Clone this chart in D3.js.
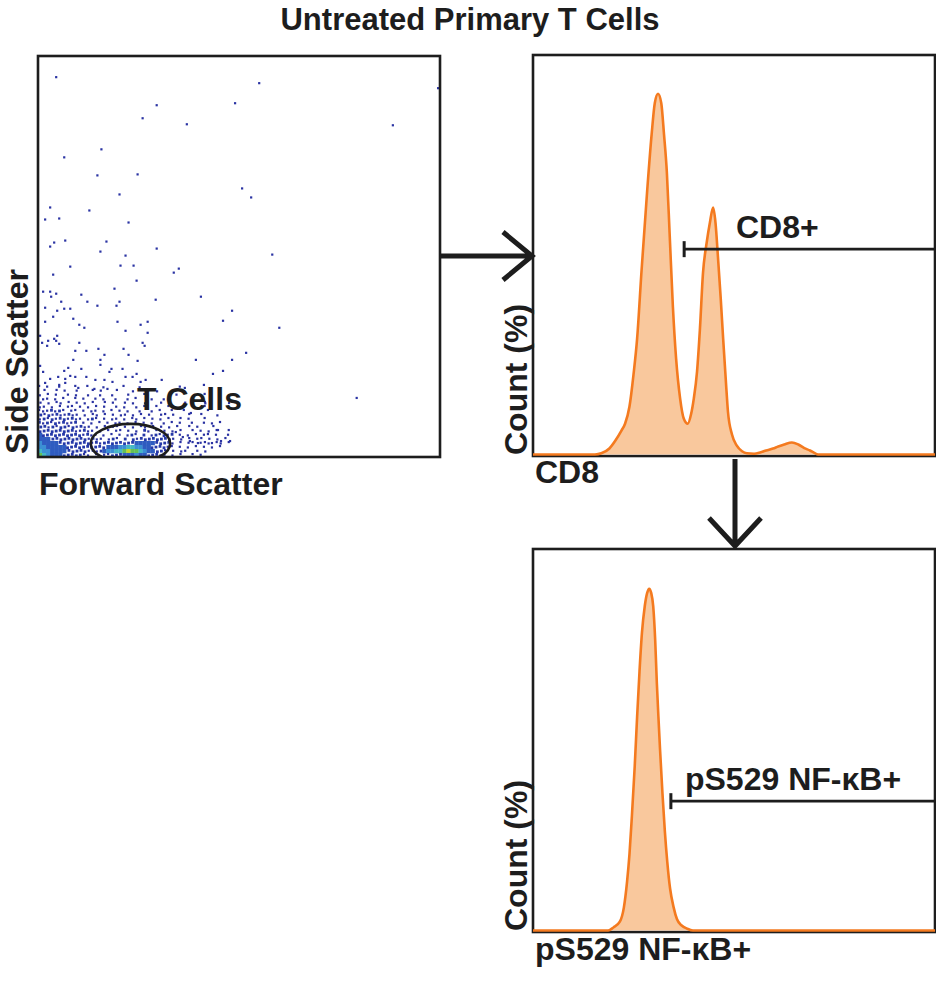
<!DOCTYPE html>
<html>
<head>
<meta charset="utf-8">
<script src="https://cdn.jsdelivr.net/npm/d3@7"></script>
<style>
  body { margin: 0; background: #fff; }
  text { font-family: "Liberation Sans", Arial, Helvetica, sans-serif; font-weight: bold; fill: #1d1d1d; }
</style>
</head>
<body>
<svg id="chart" width="936" height="996"></svg>
<script>
// ---- data -------------------------------------------------------------

// scatter: FSC / SSC in arbitrary units (0-200), sparse events
var sparseEvents = [
  [9, 189.5], [110, 186.5], [59, 175.5], [98, 176.5], [52, 169], [74, 166], [176.5, 165.5], [199, 184],
  [31.5, 153.5], [13, 149.5], [29.5, 140.5], [49.5, 141], [101.5, 134], [106, 129.5], [40.5, 131],
  [6, 124.5], [25.5, 123], [3.5, 118.5], [10.5, 119], [45, 117], [13.5, 108], [8, 107], [6, 105],
  [34, 107.5], [31, 102.5], [59, 104], [43.5, 100.5], [116.5, 101], [16, 95], [41, 95.5], [47.5, 95.5],
  [70, 94], [67.5, 92], [7.5, 91], [49, 88], [38, 84], [2.5, 82.5], [6, 82.5], [9, 81.5], [6.5, 80],
  [21.5, 81], [81, 80], [11.5, 77.5], [24.5, 77.5], [40.5, 77.5], [58.5, 78.5], [29.5, 75.5], [39, 75.5],
  [3.5, 74.5], [13, 74], [16, 74], [9.5, 73], [96.5, 73], [7.5, 70], [17.5, 69], [3.5, 67.5], [20.5, 66],
  [23, 64.5], [39.5, 67.5], [51, 66], [54.5, 67.5], [92, 68], [43.5, 63], [54.5, 62], [120, 64.5],
  [1, 60.5], [9.5, 60.5], [8, 59], [2, 57], [5, 58], [9, 58], [10.5, 56.5], [4.5, 55.5], [20.5, 57],
  [52, 57], [53, 55.5], [18.5, 53], [24, 53], [30, 54], [42.5, 54], [103.5, 52], [33, 51], [45, 51],
  [17.5, 48.5], [31, 48.5], [49.5, 48], [78.5, 48.5], [96.5, 48.5], [1, 45.5], [15, 44.5], [31, 46],
  [21.5, 44], [36.5, 44], [42, 44], [2.5, 42.5], [13, 43], [35.5, 42.5], [49, 41.5], [87, 41.5], [92, 43],
  [6, 39], [10, 40], [13.5, 39], [16, 40.5], [18.5, 40], [24, 40], [28.5, 38.5], [33, 38.5], [37, 37.5],
  [43.5, 40], [47, 40], [51, 37.5], [61.5, 38.5], [53.5, 38.5], [3.5, 37], [10.5, 36], [13.5, 37],
  [20, 34.5], [28, 34], [34.5, 34], [82.5, 36], [73, 34.5], [158.5, 29.5], [83, 27.5], [95, 27],
  [76, 22], [89.5, 13.5], [95.5, 8], [91, 8], [86.5, 7], [83, 7.5], [79.5, 7], [75.5, 8], [72, 10], [68.5, 12.5]
]

// scatter: dense core as event-density cells (2 x 2 units), top row first, '.' = empty
var densityCellSize = 2
var densityRows = [
  "1.1..1...1..1...1....1...1.........1..............",
  ".1..1.1..1...1.1...1...1.....1....................",
  "1.1.1..1.1..1..1..1...1...1.......1......1........",
  ".11.1.1..1.1..1.1..1..1.1...1..1..................",
  "1.1.11.1.1.1.1..1.1..1.1..1...1.....1....1........",
  "11.1.1.11.1.1.1.1..1.1..1.1..1..1........1........",
  "1112121.11.1.11.1.1.1.1..1..1.1..1..1.....1.......",
  "2121211211.1.11.1.1.11.1.1.1..11.1...1..1...1.....",
  "12121221211.121.1.11.1.11.1.1.1.1..1.1...1........",
  "2121212112.1.1.1.1.11.1.1.1.1..1.1.1..1..1.1.1....",
  "2212122121211.1.1.11.1.1.11.1.1.1.1..1.1...1......",
  "22222222211211.1.1.11.1.1.21.1.1.1.1..1.1.1.1..1..",
  "322222222221211.1.1.1.121.2.121212.1.1.1.11.1..1..",
  "3332222222221211.121.2.21222222221.1.1.11.1.1.1...",
  "4333322222222121222222223333322221.1.11.1.1.11.1.",
  "4433333222222222233344554433222211.1.1.1.1.1.1....",
  "54433332222212123445567665433221.1.11..1.1.......",
  "6543332222211.1.1122233343322211.1.1..1.1........"
]

// T cell gate (ellipse) in scatter units
var tCellGate = {fsc: 46, ssc: 6.75, rFsc: 19.75, rSsc: 9.75}

// histograms: [intensity 0-100, count %]
var cd8Hist = [
  [0, 0], [15.4, 0], [17, 0.3], [19, 1.5], [20.5, 3.5], [22, 6], [22.9, 7.7], [24, 12], [25, 20],
  [25.9, 29], [27, 46], [28.4, 66], [29.5, 80], [30.3, 88], [31.1, 90.3], [31.9, 88], [32.6, 80],
  [33.3, 70.6], [34, 55], [34.8, 37], [35.6, 24], [36.6, 14], [37.5, 9], [38.5, 7.7], [39.3, 10],
  [40, 14], [40.8, 20.7], [41.5, 31], [42.3, 45.6], [43.2, 53], [44, 58], [44.8, 61.8], [45.4, 58],
  [46, 49.6], [46.7, 39], [47.3, 29], [48, 18], [48.5, 10.7], [49.5, 5], [50.7, 2.2], [52, 0.8],
  [53.2, 0.3], [55, 0.2], [56.5, 0.5], [58, 1], [59.7, 1.5], [61, 2], [62.5, 2.5], [64.4, 3],
  [66, 2.5], [67.5, 1.6], [68.9, 1], [70, 0.4], [70.9, 0], [100, 0]
]
var nfkbHist = [
  [0, 0], [18.7, 0], [20, 0.8], [21.6, 2.3], [22.6, 6], [23.4, 12.8], [24, 20], [24.6, 30], [25.3, 43],
  [25.9, 56], [26.5, 68], [27.1, 78], [27.8, 85], [28.4, 88.5], [28.9, 89.6], [29.4, 88.5], [29.9, 85],
  [30.4, 76], [30.8, 65], [31.2, 56], [31.6, 47.5], [32.2, 36], [32.8, 26], [33.4, 18], [34.1, 11],
  [35, 6], [35.8, 3], [37, 1.3], [38.3, 0.5], [39.8, 0], [100, 0]
]

// gates: start intensity, drawn at count %
var cd8Gate = {start: 37.6, level: 51.4, label: "CD8+"}
var nfkbGate = {start: 34.3, level: 33.9, label: "pS529 NF-\u03BAB+"}

// ---- drawing ----------------------------------------------------------

var svg = d3.select('#chart')
var ink = '#1d1d1d'
var densityColors = ['', '#2a32a2', '#2538a8', '#2f5cc0', '#3b8fd4', '#44b8c4', '#63c057', '#c2d72f']

svg.append('text').text('Untreated Primary T Cells')
  .attr('x', 470).attr('y', 30)
  .attr('text-anchor', 'middle')
  .style('font-size', '31px')

// scatter panel
var sc = {left: 38, top: 56, right: 440, bottom: 457}
var xS = d3.scaleLinear().domain([0, 200]).range([sc.left, sc.right])
var yS = d3.scaleLinear().domain([0, 200]).range([sc.bottom, sc.top])

svg.append('clipPath').attr('id', 'scClip')
  .append('rect')
  .attr('x', sc.left).attr('y', sc.top)
  .attr('width', sc.right - sc.left).attr('height', sc.bottom - sc.top)

var scG = svg.append('g').attr('clip-path', 'url(#scClip)')

var cells = []
densityRows.forEach(function(row, r) {
  row.split('').forEach(function(ch, c) {
    if (ch == '.') return
    cells.push({u: c*densityCellSize, v: (densityRows.length - 1 - r)*densityCellSize, level: +ch, r: r, c: c})
  })
})

// small dots for the thin levels, whole cells for the dense ones
var cellPx = xS(densityCellSize) - xS(0)
function dotSize(d) { return d.level == 1 ? 2.2 : d.level == 2 ? 2.8 : cellPx + 0.3 }
function nudge(d) { return d.level > 2 ? 0 : (d.c*3 + d.r*2) % 3 * 0.7 }

scG.selectAll('rect.cell').data(cells).enter().append('rect')
  .attr('class', 'cell')
  .attr('x', function(d) { return xS(d.u) + nudge(d) })
  .attr('y', function(d) { return yS(d.v + densityCellSize) + (d.level > 2 ? 0 : (d.r + d.c*2) % 3 * 0.7) })
  .attr('width', dotSize)
  .attr('height', dotSize)
  .attr('fill', function(d) { return densityColors[d.level] })

scG.selectAll('rect.evt').data(sparseEvents).enter().append('rect')
  .attr('class', 'evt')
  .attr('x', function(d) { return xS(d[0]) - 1 })
  .attr('y', function(d) { return yS(d[1]) - 1 })
  .attr('width', 2.2).attr('height', 2.2)
  .attr('fill', '#2a33a3')

scG.append('ellipse')
  .attr('cx', xS(tCellGate.fsc))
  .attr('cy', yS(tCellGate.ssc))
  .attr('rx', xS(tCellGate.fsc + tCellGate.rFsc) - xS(tCellGate.fsc))
  .attr('ry', yS(tCellGate.ssc) - yS(tCellGate.ssc + tCellGate.rSsc))
  .attr('fill', 'none').attr('stroke', ink).attr('stroke-width', 2.6)

svg.append('rect')
  .attr('x', sc.left).attr('y', sc.top)
  .attr('width', sc.right - sc.left).attr('height', sc.bottom - sc.top)
  .attr('fill', 'none').attr('stroke', ink).attr('stroke-width', 2.6)

svg.append('text').text('T Cells').attr('x', 137).attr('y', 410).style('font-size', '32px')
svg.append('text').text('Forward Scatter').attr('x', 39).attr('y', 495).style('font-size', '32px')
svg.append('text').text('Side Scatter')
  .attr('transform', 'translate(28,454) rotate(-90)')
  .style('font-size', '32px')

// histogram panels
function histPanel(top, bottom, data, gate, gateLabelX, xLabel, xLabelY) {
  var p = {left: 533, right: 935, top: top, bottom: bottom}
  var x = d3.scaleLinear().domain([0, 100]).range([p.left, p.right])
  var y = d3.scaleLinear().domain([0, 100]).range([p.bottom - 1.5, p.top])
  var g = svg.append('g')

  g.append('rect')
    .attr('x', p.left).attr('y', p.top)
    .attr('width', p.right - p.left).attr('height', p.bottom - p.top)
    .attr('fill', 'none').attr('stroke', ink).attr('stroke-width', 2.6)

  var area = d3.area()
    .x(function(d) { return x(d[0]) })
    .y0(y(0))
    .y1(function(d) { return y(d[1]) })
    .curve(d3.curveMonotoneX)
  var line = d3.line()
    .x(function(d) { return x(d[0]) })
    .y(function(d) { return y(d[1]) })
    .curve(d3.curveMonotoneX)

  g.append('path').datum(data).attr('d', area).attr('fill', '#f9c89d')
  g.append('path').datum(data).attr('d', line)
    .attr('fill', 'none').attr('stroke', '#f47a1f').attr('stroke-width', 2.6)
    .attr('stroke-linejoin', 'round')

  var gy = y(gate.level)
  g.append('path')
    .attr('d', 'M' + x(gate.start) + ',' + gy + 'H' + x(100))
    .attr('stroke', ink).attr('stroke-width', 2.6)
  g.append('path')
    .attr('d', 'M' + x(gate.start) + ',' + (gy - 8) + 'V' + (gy + 8))
    .attr('stroke', ink).attr('stroke-width', 3)
  g.append('text').text(gate.label)
    .attr('x', x(gateLabelX)).attr('y', gy - 11)
    .style('font-size', '32px')

  g.append('text').text('Count (%)')
    .attr('transform', 'translate(527,' + (p.bottom - 1) + ') rotate(-90)')
    .style('font-size', '32px')
  g.append('text').text(xLabel)
    .attr('x', 535).attr('y', xLabelY)
    .style('font-size', '32px')
}

histPanel(55, 456, cd8Hist, cd8Gate, 50.5, 'CD8', 483)
histPanel(549, 932, nfkbHist, nfkbGate, 37.8, 'pS529 NF-\u03BAB+', 960)

// arrows between panels
var arrowStroke = 5
svg.append('path')
  .attr('d', 'M440,256H531 M503,232L532,256L503,280')
  .attr('fill', 'none').attr('stroke', ink).attr('stroke-width', arrowStroke)
svg.append('path')
  .attr('d', 'M735,459V545 M709,518L735,546L761,518')
  .attr('fill', 'none').attr('stroke', ink).attr('stroke-width', arrowStroke)
</script>
</body>
</html>
